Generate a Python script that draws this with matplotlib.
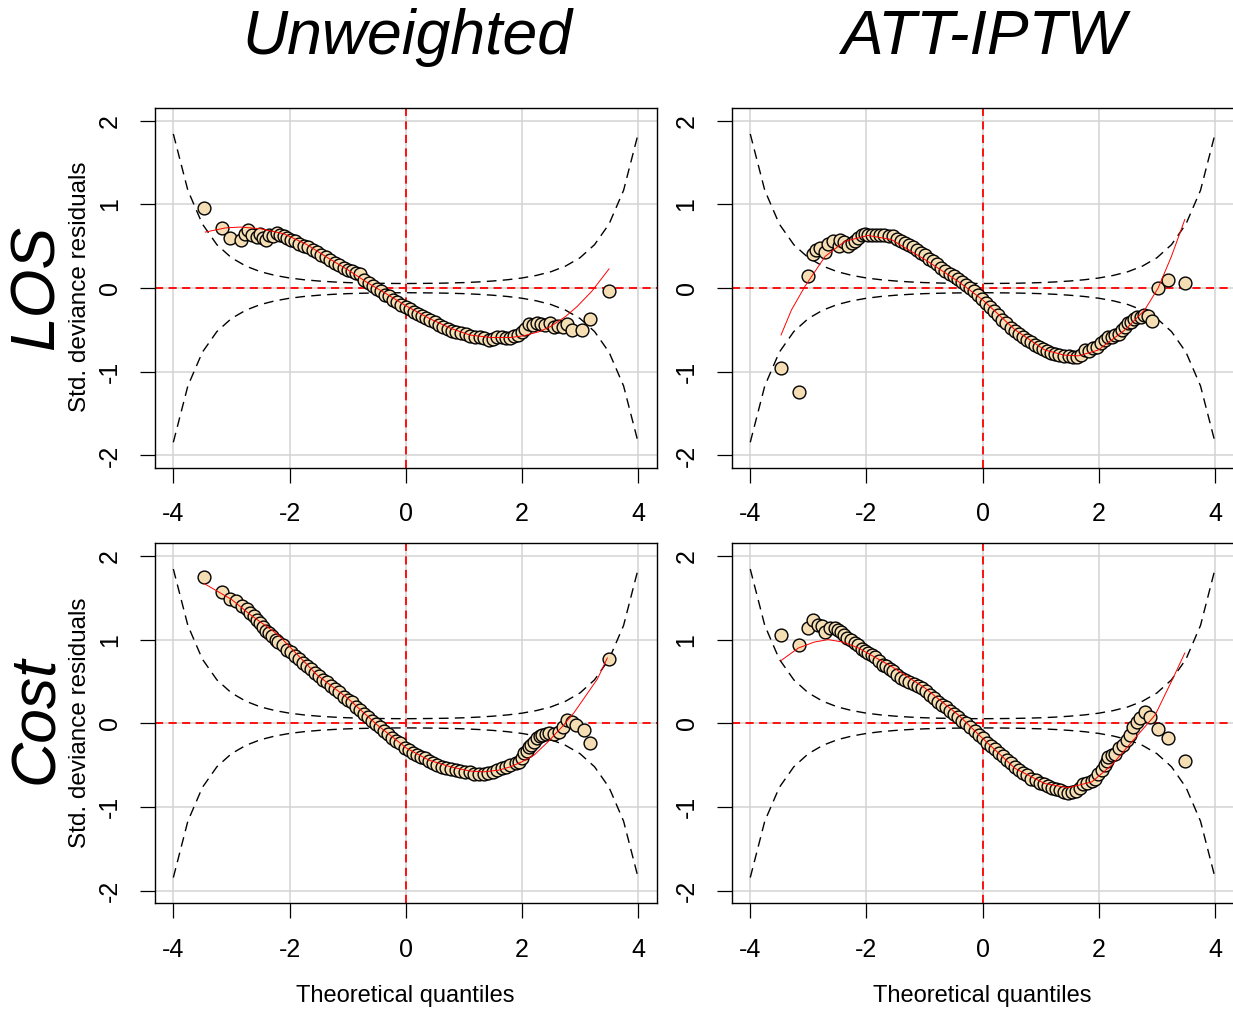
import numpy as np
import matplotlib.pyplot as plt

plt.rcParams['font.family'] = ['Liberation Sans', 'DejaVu Sans']

# worm plot bands (upper half, the lower one is its mirror)
band_x = [-4.0, -3.75, -3.5, -3.25, -3.0, -2.75, -2.5, -2.25, -2.0, -1.75, -1.5, -1.25, -1.0,
          -0.75, -0.5, -0.25, 0.0, 0.25, 0.5, 0.75, 1.0, 1.25, 1.5, 1.75, 2.0, 2.25, 2.5,
          2.75, 3.0, 3.25, 3.5, 3.75, 4.0]
band_hi = [1.843, 1.169, 0.766, 0.519, 0.363, 0.263, 0.196, 0.152, 0.121, 0.100, 0.085, 0.074, 0.066,
           0.061, 0.058, 0.056, 0.055, 0.056, 0.058, 0.061, 0.066, 0.074, 0.085, 0.100, 0.121, 0.152, 0.196,
           0.263, 0.363, 0.519, 0.766, 1.169, 1.843]

# LOS, unweighted
los_unw_x = [-3.47, -3.17, -3.02, -2.84, -2.76, -2.72, -2.64, -2.56, -2.51, -2.45, -2.40, -2.36, -2.29,
             -2.22, -2.16, -2.10, -2.04, -1.98, -1.90, -1.83, -1.75, -1.68, -1.60, -1.52, -1.45, -1.37,
             -1.30, -1.22, -1.15, -1.07, -1.00, -0.92, -0.85, -0.78, -0.71, -0.64, -0.57, -0.50, -0.43,
             -0.36, -0.29, -0.22, -0.15, -0.08, 0.00, 0.07, 0.14, 0.21, 0.28, 0.35, 0.42, 0.50, 0.57,
             0.64, 0.72, 0.79, 0.87, 0.95, 1.03, 1.11, 1.19, 1.27, 1.35, 1.43, 1.50, 1.57, 1.65, 1.72,
             1.79, 1.86, 1.93, 2.00, 2.06, 2.12, 2.19, 2.26, 2.33, 2.40, 2.49, 2.55, 2.62, 2.70, 2.78,
             2.87, 3.04, 3.18, 3.50]
los_unw_y = [0.96, 0.72, 0.60, 0.57, 0.65, 0.70, 0.64, 0.61, 0.65, 0.60, 0.57, 0.63, 0.62,
             0.66, 0.63, 0.62, 0.60, 0.58, 0.56, 0.53, 0.50, 0.49, 0.46, 0.43, 0.40, 0.37,
             0.34, 0.30, 0.28, 0.24, 0.22, 0.20, 0.18, 0.17, 0.10, 0.06, 0.02, -0.01, -0.04,
             -0.08, -0.10, -0.14, -0.17, -0.20, -0.23, -0.25, -0.28, -0.31, -0.33, -0.36, -0.38, -0.41, -0.44,
             -0.47, -0.49, -0.51, -0.52, -0.54, -0.55, -0.57, -0.58, -0.59, -0.60, -0.62, -0.61, -0.58, -0.59, -0.60,
             -0.60, -0.57, -0.56, -0.53, -0.49, -0.43, -0.44, -0.42, -0.43, -0.44, -0.42, -0.47, -0.45, -0.47, -0.43,
             -0.50, -0.50, -0.37, -0.03]
los_unw_fit_x = [-3.45, -3.1, -2.85, -2.5, -2.1, -1.7, -1.36, -1.0, -0.67, -0.33, 0.0, 0.4, 0.77,
                 1.1, 1.46, 1.8, 2.03, 2.3, 2.49, 2.75, 2.95, 3.2, 3.5]
los_unw_fit_y = [0.67, 0.72, 0.73, 0.71, 0.65, 0.52, 0.37, 0.22, 0.07, -0.07, -0.21, -0.36, -0.48,
                 -0.56, -0.59, -0.59, -0.57, -0.52, -0.46, -0.34, -0.22, -0.04, 0.23]

# LOS, ATT-IPTW
los_att_x = [-3.47, -3.16, -3.01, -2.92, -2.86, -2.80, -2.71, -2.66, -2.57, -2.48, -2.46, -2.38, -2.31,
             -2.25, -2.20, -2.14, -2.08, -2.02, -1.97, -1.90, -1.83, -1.76, -1.70, -1.62, -1.55, -1.48,
             -1.41, -1.34, -1.27, -1.20, -1.13, -1.06, -0.99, -0.92, -0.85, -0.78, -0.71, -0.64, -0.57,
             -0.50, -0.43, -0.36, -0.29, -0.22, -0.15, -0.08, -0.01, 0.06, 0.13, 0.20, 0.27, 0.34, 0.41,
             0.48, 0.55, 0.62, 0.69, 0.76, 0.83, 0.90, 0.97, 1.04, 1.11, 1.18, 1.25, 1.32, 1.40, 1.48,
             1.56, 1.63, 1.70, 1.76, 1.83, 1.90, 1.97, 2.04, 2.11, 2.16, 2.22, 2.28, 2.34, 2.40, 2.45,
             2.50, 2.55, 2.61, 2.66, 2.72, 2.78, 2.85, 2.91, 3.02, 3.19, 3.48]
los_att_y = [-0.95, -1.24, 0.15, 0.41, 0.45, 0.48, 0.43, 0.53, 0.56, 0.50, 0.58, 0.55, 0.50,
             0.54, 0.56, 0.60, 0.64, 0.65, 0.64, 0.64, 0.63, 0.64, 0.63, 0.62, 0.62, 0.59,
             0.56, 0.54, 0.51, 0.49, 0.45, 0.42, 0.39, 0.35, 0.32, 0.29, 0.24, 0.21, 0.17,
             0.14, 0.11, 0.07, 0.04, 0.00, -0.04, -0.08, -0.13, -0.18, -0.23, -0.27, -0.32, -0.38, -0.42,
             -0.48, -0.51, -0.55, -0.59, -0.62, -0.65, -0.68, -0.70, -0.73, -0.75, -0.77, -0.79, -0.80, -0.81, -0.81,
             -0.82, -0.82, -0.80, -0.74, -0.75, -0.72, -0.70, -0.66, -0.62, -0.59, -0.59, -0.56, -0.55, -0.50, -0.46,
             -0.42, -0.40, -0.37, -0.35, -0.34, -0.32, -0.33, -0.39, 0.00, 0.10, 0.06]
los_att_fit_x = [-3.47, -3.29, -3.06, -2.71, -2.37, -1.97, -1.57, -0.99, -0.42, 0.0, 0.56, 1.07,
                 1.4, 1.65, 1.99, 2.45, 2.79, 3.02, 3.25, 3.48]
los_att_fit_y = [-0.56, -0.26, 0.02, 0.38, 0.56, 0.63, 0.58, 0.34, 0.08, -0.14, -0.50, -0.74,
                 -0.80, -0.81, -0.74, -0.50, -0.26, 0.0, 0.38, 0.82]

# Cost, unweighted
cost_unw_x = [-3.47, -3.17, -3.02, -2.92, -2.82, -2.74, -2.68, -2.62, -2.56, -2.51, -2.45, -2.40, -2.35,
              -2.30, -2.24, -2.19, -2.12, -2.05, -1.98, -1.91, -1.84, -1.77, -1.70, -1.63, -1.56, -1.49,
              -1.42, -1.35, -1.28, -1.21, -1.14, -1.07, -1.00, -0.93, -0.86, -0.79, -0.72, -0.65, -0.58,
              -0.51, -0.44, -0.37, -0.30, -0.23, -0.16, -0.09, -0.02, 0.05, 0.12, 0.19, 0.26, 0.33, 0.40,
              0.47, 0.54, 0.62, 0.70, 0.78, 0.86, 0.94, 1.02, 1.10, 1.18, 1.26, 1.34, 1.42, 1.50, 1.57,
              1.65, 1.72, 1.80, 1.89, 1.95, 2.01, 2.04, 2.08, 2.12, 2.15, 2.20, 2.26, 2.31, 2.35, 2.41,
              2.47, 2.55, 2.64, 2.70, 2.78, 2.87, 2.93, 3.07, 3.18, 3.50]
cost_unw_y = [1.75, 1.57, 1.49, 1.46, 1.40, 1.36, 1.32, 1.28, 1.24, 1.20, 1.15, 1.10, 1.08,
              1.04, 1.00, 0.97, 0.93, 0.88, 0.85, 0.81, 0.77, 0.72, 0.68, 0.65, 0.60, 0.57,
              0.52, 0.49, 0.45, 0.41, 0.37, 0.32, 0.28, 0.25, 0.20, 0.16, 0.11, 0.07, 0.03,
              -0.01, -0.05, -0.09, -0.13, -0.17, -0.21, -0.24, -0.29, -0.32, -0.35, -0.38, -0.40, -0.42, -0.45,
              -0.48, -0.50, -0.52, -0.54, -0.55, -0.56, -0.57, -0.58, -0.58, -0.60, -0.61, -0.60, -0.59, -0.58, -0.56,
              -0.54, -0.52, -0.50, -0.48, -0.46, -0.42, -0.36, -0.33, -0.28, -0.26, -0.22, -0.18, -0.15, -0.14, -0.13,
              -0.12, -0.13, -0.10, -0.04, 0.04, 0.02, -0.02, -0.08, -0.23, 0.77]
cost_unw_fit_x = [-3.47, -3.0, -2.68, -2.2, -1.53, -1.0, -0.49, 0.02, 0.4, 0.77, 1.1, 1.34, 1.6,
                  1.8, 2.0, 2.21, 2.45, 2.72, 2.9, 3.07, 3.3, 3.47]
cost_unw_fit_y = [1.67, 1.48, 1.30, 1.06, 0.58, 0.30, -0.02, -0.30, -0.44, -0.52, -0.57, -0.58, -0.56,
                  -0.52, -0.46, -0.38, -0.22, -0.02, 0.13, 0.30, 0.53, 0.78]

# Cost, ATT-IPTW
cost_att_x = [-3.47, -3.16, -3.01, -2.92, -2.84, -2.77, -2.71, -2.62, -2.54, -2.49, -2.44, -2.39, -2.34,
              -2.27, -2.20, -2.14, -2.08, -2.02, -1.97, -1.91, -1.85, -1.78, -1.72, -1.66, -1.60, -1.54,
              -1.47, -1.40, -1.33, -1.26, -1.19, -1.12, -1.05, -0.98, -0.91, -0.84, -0.77, -0.70, -0.63,
              -0.56, -0.49, -0.42, -0.35, -0.28, -0.21, -0.14, -0.07, 0.00, 0.07, 0.14, 0.21, 0.28, 0.35,
              0.42, 0.49, 0.56, 0.63, 0.70, 0.77, 0.84, 0.91, 0.98, 1.05, 1.12, 1.19, 1.26, 1.33, 1.40,
              1.47, 1.54, 1.61, 1.68, 1.73, 1.80, 1.88, 1.94, 1.99, 2.05, 2.11, 2.14, 2.16, 2.22, 2.28,
              2.34, 2.42, 2.48, 2.54, 2.59, 2.65, 2.71, 2.79, 2.88, 3.02, 3.19, 3.48]
cost_att_y = [1.05, 0.93, 1.14, 1.24, 1.17, 1.16, 1.09, 1.14, 1.14, 1.12, 1.09, 1.05, 1.02,
              0.99, 0.96, 0.93, 0.89, 0.86, 0.84, 0.82, 0.79, 0.74, 0.70, 0.68, 0.65, 0.62,
              0.58, 0.54, 0.52, 0.49, 0.47, 0.45, 0.42, 0.38, 0.34, 0.30, 0.26, 0.22, 0.19,
              0.15, 0.11, 0.07, 0.03, 0.00, -0.05, -0.09, -0.14, -0.18, -0.23, -0.27, -0.31, -0.35, -0.39,
              -0.44, -0.48, -0.52, -0.56, -0.59, -0.62, -0.66, -0.68, -0.71, -0.73, -0.75, -0.77, -0.79, -0.80, -0.82,
              -0.83, -0.82, -0.81, -0.77, -0.73, -0.71, -0.69, -0.66, -0.61, -0.56, -0.50, -0.45, -0.40, -0.38, -0.37,
              -0.30, -0.26, -0.20, -0.14, -0.05, 0.02, 0.06, 0.13, 0.07, -0.07, -0.18, -0.45]
cost_att_fit_x = [-3.47, -3.17, -2.9, -2.66, -2.4, -2.14, -1.57, -0.99, -0.42, 0.0, 0.56, 1.07,
                  1.47, 1.88, 2.22, 2.62, 2.97, 3.25, 3.48]
cost_att_fit_y = [0.75, 0.90, 0.97, 1.00, 0.97, 0.90, 0.68, 0.42, 0.10, -0.18, -0.54, -0.72,
                  -0.77, -0.70, -0.50, -0.18, 0.10, 0.50, 0.84]

col_titles = ['Unweighted', 'ATT-IPTW']
row_titles = ['LOS', 'Cost']
x_ticks = [-4, -2, 0, 2, 4]
y_ticks = [-2, -1, 0, 1, 2]


def worm_panel(ax, px, py, fx, fy):
    for v in x_ticks:
        ax.axvline(v, color='lightgray', lw=1.1, zorder=0)
    for v in y_ticks:
        ax.axhline(v, color='lightgray', lw=1.1, zorder=0)
    ax.plot(band_x, band_hi, color='black', lw=1.0, dashes=(7, 4.5), zorder=1)
    ax.plot(band_x, [-v for v in band_hi], color='black', lw=1.0, dashes=(7, 4.5), zorder=1)
    ax.axvline(0, color='red', lw=1.3, dashes=(4.5, 3), zorder=2)
    ax.axhline(0, color='red', lw=1.3, dashes=(4.5, 3), zorder=2)
    ax.scatter(px, py, s=85, facecolor='wheat', edgecolor='black', linewidths=1.0, zorder=3)
    ax.plot(fx, fy, color='red', lw=0.7, zorder=4)

    ax.set_xlim(-4.32, 4.32)
    ax.set_ylim(-2.15, 2.15)
    ax.set_xticks(x_ticks)
    ax.set_xticklabels([str(t) for t in x_ticks])
    ax.set_yticks(y_ticks)
    ax.set_yticklabels([str(t) for t in y_ticks], rotation=90, va='center')
    ax.tick_params(axis='both', direction='out', length=10.8, width=0.9, labelsize=18)
    ax.tick_params(axis='x', pad=14)
    ax.tick_params(axis='y', pad=13)
    for sp in ax.spines.values():
        sp.set_linewidth(1.0)


fig = plt.figure(figsize=(12.33, 10.09), dpi=100)

ax1 = fig.add_axes([0.1255, 0.5362, 0.4071, 0.3565])
ax2 = fig.add_axes([0.5934, 0.5362, 0.4071, 0.3565])
ax3 = fig.add_axes([0.1255, 0.1048, 0.4071, 0.3567])
ax4 = fig.add_axes([0.5934, 0.1048, 0.4071, 0.3567])

worm_panel(ax1, los_unw_x, los_unw_y, los_unw_fit_x, los_unw_fit_y)
worm_panel(ax2, los_att_x, los_att_y, los_att_fit_x, los_att_fit_y)
worm_panel(ax3, cost_unw_x, cost_unw_y, cost_unw_fit_x, cost_unw_fit_y)
worm_panel(ax4, cost_att_x, cost_att_y, cost_att_fit_x, cost_att_fit_y)

fig.text(0.330, 0.963, col_titles[0], ha='center', va='center', fontsize=45, style='italic')
fig.text(0.798, 0.963, col_titles[1], ha='center', va='center', fontsize=45, style='italic')
fig.text(0.030, 0.7156, row_titles[0], ha='center', va='center', fontsize=45, style='italic', rotation=90)
fig.text(0.030, 0.2864, row_titles[1], ha='center', va='center', fontsize=45, style='italic', rotation=90)

for yc in [0.7156, 0.2835]:
    fig.text(0.0649, yc, 'Std. deviance residuals', ha='center', va='center', fontsize=17.5, rotation=90)
for xc in [0.329, 0.797]:
    fig.text(xc, 0.0129, 'Theoretical quantiles', ha='center', va='center', fontsize=17)

fig.savefig('out.png', dpi=100)
